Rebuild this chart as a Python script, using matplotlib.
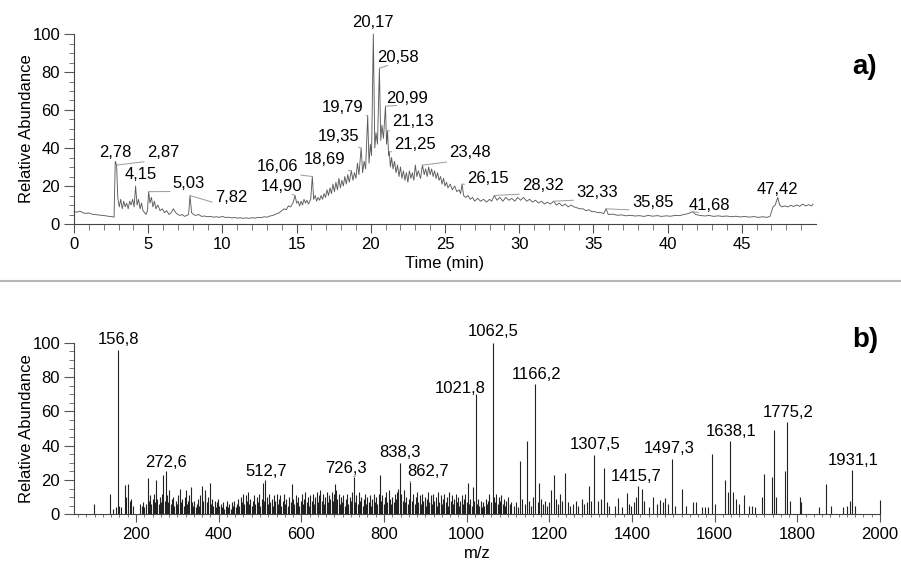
import numpy as np
import matplotlib.pyplot as plt
from matplotlib.ticker import MultipleLocator, FixedLocator
from matplotlib.lines import Line2D

plt.rcParams['font.family'] = ['Liberation Sans', 'DejaVu Sans']
plt.rcParams['font.size'] = 12

# ---- chromatogram (time in min, relative abundance in %) ----
chrom_early = [
    (0.0, 6.5), (0.2, 6.2), (0.4, 6.8), (0.6, 5.9), (0.8, 5.6), (1.0, 5.8), (1.2, 5.2),
    (1.4, 5.0), (1.6, 4.8), (1.8, 4.6), (2.0, 4.5), (2.2, 4.2), (2.4, 4.0), (2.6, 3.8),
    (2.7, 3.6), (2.78, 33), (2.87, 31), (2.95, 14), (3.05, 9), (3.15, 13), (3.25, 8),
    (3.35, 12), (3.45, 9), (3.55, 11), (3.65, 8), (3.75, 12), (3.85, 10), (3.95, 13),
    (4.05, 9), (4.15, 20), (4.25, 10), (4.35, 13), (4.45, 8), (4.55, 11), (4.65, 7),
    (4.75, 6), (4.85, 5), (4.95, 7), (5.03, 17), (5.12, 11), (5.22, 14), (5.32, 9),
    (5.42, 12), (5.52, 8), (5.65, 10), (5.8, 7), (5.95, 8), (6.1, 6), (6.25, 7), (6.4, 5),
    (6.55, 6), (6.7, 8), (6.85, 6), (7.0, 5), (7.15, 4.5), (7.3, 5), (7.45, 4), (7.6, 4.5),
    (7.72, 5), (7.82, 15), (7.92, 6), (8.05, 5), (8.2, 4.5), (8.4, 5), (8.6, 4), (8.8, 4.2),
    (9.0, 3.8), (9.2, 4), (9.4, 3.6), (9.6, 3.8), (9.8, 3.5), (10.0, 4), (10.2, 3.4),
    (10.4, 3.6), (10.6, 3.2), (10.8, 3.4), (11.0, 3.1), (11.2, 3.3), (11.4, 3.0),
    (11.6, 3.2), (11.8, 3.0), (12.0, 3.3), (12.2, 3.1), (12.4, 3.5), (12.6, 3.3),
    (12.8, 3.8), (13.0, 3.6), (13.2, 4.2), (13.4, 4.5), (13.6, 5.2), (13.8, 5.8),
]
chrom_main = [
    (14.0, 7), (14.15, 8), (14.3, 7.5), (14.45, 9.5), (14.6, 9), (14.75, 11), (14.9, 15),
    (15.0, 11), (15.1, 12), (15.2, 9.5), (15.3, 12), (15.4, 10), (15.5, 13), (15.6, 11),
    (15.7, 12.5), (15.8, 10.5), (15.95, 13), (16.06, 25), (16.15, 13), (16.25, 15),
    (16.35, 12), (16.45, 14), (16.55, 12.5), (16.65, 15), (16.75, 13), (16.85, 16),
    (16.95, 14), (17.05, 18), (17.15, 15), (17.25, 19), (17.35, 16), (17.45, 21),
    (17.55, 17), (17.65, 22), (17.75, 18), (17.85, 24), (17.95, 19), (18.05, 23),
    (18.15, 20), (18.25, 25), (18.35, 21), (18.45, 26), (18.55, 22), (18.69, 28),
    (18.8, 23), (18.9, 27), (19.0, 24), (19.1, 32), (19.2, 26), (19.35, 40), (19.45, 27),
    (19.55, 33), (19.65, 29), (19.79, 57), (19.88, 32), (19.97, 42), (20.05, 36),
    (20.17, 100), (20.27, 40), (20.35, 48), (20.45, 42), (20.58, 82), (20.67, 44),
    (20.75, 52), (20.85, 45), (20.99, 62), (21.06, 42), (21.13, 49), (21.2, 36),
    (21.25, 38), (21.32, 30), (21.4, 35), (21.5, 29), (21.6, 33), (21.7, 27), (21.8, 31),
    (21.9, 25), (22.0, 30), (22.1, 24), (22.2, 28), (22.3, 23), (22.4, 27), (22.5, 22),
    (22.6, 28), (22.7, 24), (22.8, 27), (22.9, 23), (23.0, 31), (23.1, 25), (23.2, 28),
    (23.35, 24), (23.48, 31), (23.6, 26), (23.7, 29), (23.8, 25), (23.9, 30), (24.0, 26),
    (24.1, 29), (24.2, 25), (24.3, 28), (24.4, 24), (24.5, 27), (24.6, 23), (24.7, 25),
    (24.8, 21), (24.9, 24), (25.0, 20), (25.1, 22), (25.2, 19), (25.35, 21), (25.5, 18),
    (25.65, 20), (25.8, 17), (25.95, 18), (26.05, 16), (26.15, 21), (26.25, 15),
    (26.4, 14), (26.55, 15), (26.7, 13), (26.85, 14),
]
chrom_late = [
    (27.0, 12), (27.2, 13.5), (27.4, 12), (27.6, 13), (27.8, 11.5), (28.0, 13), (28.15, 12),
    (28.32, 15), (28.5, 12.5), (28.7, 14), (28.9, 12), (29.1, 14), (29.3, 12.5), (29.5, 13.5),
    (29.7, 12), (29.9, 14), (30.1, 12.5), (30.3, 14), (30.5, 12), (30.7, 13), (30.9, 11.5),
    (31.1, 12.5), (31.3, 11), (31.5, 12), (31.7, 10.5), (31.9, 11.5), (32.1, 10.5),
    (32.33, 12), (32.5, 10), (32.7, 11), (32.9, 9.5), (33.1, 10.5), (33.3, 9), (33.5, 10),
    (33.7, 9), (33.9, 8.5), (34.1, 8), (34.3, 8), (34.5, 7), (34.7, 7.5), (34.9, 6.5),
    (35.1, 6.5), (35.3, 6), (35.5, 6), (35.7, 5.5), (35.85, 8), (36.0, 5), (36.3, 5.2),
    (36.6, 4.6), (36.9, 4.8), (37.2, 4.3), (37.5, 4.6), (37.8, 4.2), (38.1, 4.4), (38.4, 4.0),
    (38.7, 4.5), (39.0, 4.1), (39.3, 4.4), (39.6, 4.0), (39.9, 4.3), (40.2, 4.1), (40.5, 4.5),
    (40.8, 4.4), (41.1, 5), (41.4, 5.5), (41.68, 6.5), (41.9, 5), (42.2, 4.5), (42.5, 4.2),
    (42.8, 4.5), (43.1, 4.0), (43.4, 4.3), (43.7, 4.0), (44.0, 4.2), (44.3, 3.8), (44.6, 4.1),
    (44.9, 3.7), (45.2, 4.0), (45.5, 3.6), (45.8, 3.9), (46.1, 3.5), (46.4, 3.8), (46.7, 3.5),
    (46.9, 4), (47.1, 9), (47.25, 10), (47.42, 14), (47.55, 10), (47.7, 9), (47.9, 9.5),
    (48.1, 9), (48.3, 9.8), (48.5, 9.2), (48.7, 10), (48.9, 9.3), (49.1, 10.5), (49.3, 9.5),
    (49.5, 10.2), (49.7, 9.5), (49.8, 10.5),
]

chrom_peak_labels = ["2,78", "2,87", "4,15", "5,03", "7,82", "14,90", "16,06", "18,69",
                     "19,35", "19,79", "20,17", "20,58", "20,99", "21,13", "21,25",
                     "23,48", "26,15", "28,32", "32,33", "35,85", "41,68", "47,42"]

# ---- mass spectrum (m/z, relative abundance in %) ----
ms_low = [
    (98, 6), (137, 12), (145, 3), (152, 4), (156.8, 95.7), (160, 5), (163, 4), (173, 17),
    (177, 10), (181, 17.5), (185, 8), (189, 9), (193, 5), (210, 6), (214, 5),
]
ms_forest = [
    (216, 7), (219, 4), (223, 6), (228, 21), (231, 8), (234, 11), (237, 6), (240, 9),
    (243, 12), (246, 7), (249, 20), (252, 9), (255, 6), (258, 10), (261, 7), (263, 12),
    (266, 23), (269, 8), (272.6, 25), (275, 11), (278, 7), (281, 14), (284, 6), (287, 9),
    (290, 10), (293, 5), (296, 8), (299, 6), (302, 11), (306, 15), (309, 7), (312, 9),
    (315, 5), (318, 10), (320, 14), (323, 6), (326, 8), (329, 11), (332, 16), (335, 7),
    (338, 5), (341, 8), (344, 4), (347, 6), (350, 9), (353, 5), (356, 11), (360, 16.5),
    (363, 8), (366, 12), (368, 14), (371, 7), (374, 10), (378, 18.4), (381, 6), (384, 9),
    (387, 5), (390, 8), (393, 4), (396, 7), (399, 9), (402, 5), (405, 6), (408, 4),
    (411, 7), (414, 3), (417, 5), (420, 8), (423, 4), (426, 6), (429, 3), (432, 7),
    (435, 5), (438, 8), (441, 4), (444, 6), (447, 9), (450, 5), (453, 10), (456, 7),
    (459, 12), (462, 6), (465, 11), (468, 8), (471, 13), (474, 6), (477, 9), (480, 5),
    (483, 8), (486, 11), (489, 6), (492, 10), (495, 7), (498, 12), (501, 5), (504, 9),
    (508, 18), (510, 8), (512.7, 20), (516, 10), (519, 6), (522, 12), (525, 7), (528, 9),
    (531, 5), (534, 11), (537, 8), (540, 12), (543, 6), (546, 9), (549, 11), (552, 5),
    (555, 8), (558, 12), (561, 6), (564, 9), (567, 5), (570, 10), (574, 7), (577, 17.6),
    (580, 9), (583, 6), (586, 11), (589, 7), (592, 10), (595, 5), (598, 8), (601, 12),
    (604, 6), (607, 9), (610, 13), (613, 7), (616, 10), (619, 5), (622, 11), (625, 8),
    (628, 12), (631, 6), (634, 10), (637, 13), (640, 7), (643, 11), (646, 14), (649, 8),
    (652, 12), (655, 6), (658, 10), (661, 13), (664, 7), (667, 11), (670, 9), (673, 13),
    (676, 8), (679, 12), (681, 17.6), (684, 14), (687, 9), (690, 12), (693, 6), (696, 10),
    (699, 7), (702, 11), (705, 5), (708, 9), (711, 12), (714, 6), (717, 10), (720, 8),
    (723, 13), (726.3, 22), (730, 7), (733, 11), (736, 6), (739, 13), (742, 8), (745, 10),
    (748, 5), (751, 9), (754, 12), (757, 6), (760, 10), (763, 7), (766, 11), (769, 5),
    (772, 9), (775, 12), (778, 7), (781, 10), (784, 6), (787, 12), (790, 23), (793, 8),
    (796, 11), (799, 6), (802, 10), (805, 13), (808, 7), (811, 14), (814, 9), (817, 6),
    (820, 10), (823, 7), (826, 12), (829, 9), (832, 13), (835, 15), (838.3, 30), (842, 12),
    (845, 8), (848, 14), (851, 7), (854, 10), (857, 6), (860, 9), (862.7, 19), (868, 8),
    (871, 12), (874, 6), (877, 10), (880, 13), (883, 7), (886, 11), (889, 6), (892, 12),
    (895, 8), (898, 10), (901, 5), (904, 9), (907, 13), (910, 7), (913, 11), (916, 6),
    (919, 12), (922, 8), (925, 10), (928, 5), (931, 13), (934, 7), (937, 11), (940, 6),
    (943, 9), (946, 12), (949, 7), (952, 10), (955, 5), (958, 13), (961, 8), (964, 11),
    (967, 6), (970, 9), (973, 12), (976, 7), (979, 10), (982, 5), (985, 8), (988, 11),
    (991, 6), (994, 9), (997, 12), (1000, 7), (1003, 18), (1006, 6), (1009, 9), (1012, 5),
    (1015, 16), (1018, 8), (1021.8, 70), (1025, 6), (1028, 9), (1031, 5), (1034, 8),
    (1037, 4), (1040, 7), (1043, 5), (1046, 9), (1049, 6), (1052, 8), (1055, 12), (1058, 7),
    (1062.5, 100), (1066, 10), (1069, 7), (1072, 12), (1075, 6), (1078, 10), (1081, 8),
    (1084, 11), (1087, 6), (1090, 9), (1093, 5), (1096, 8), (1100, 10), (1104, 6), (1108, 7),
]
ms_high = [
    (1115, 5), (1120, 7), (1124, 4), (1130, 31), (1135, 9), (1140, 6), (1146, 43), (1150, 8),
    (1155, 5), (1160, 10), (1166.2, 76), (1172, 7), (1176, 18), (1180, 9), (1185, 6),
    (1190, 8), (1195, 5), (1200, 7), (1205, 14), (1211, 23), (1215, 9), (1220, 6), (1226, 12),
    (1230, 8), (1238, 24), (1245, 7), (1250, 5), (1258, 6), (1265, 8), (1270, 5), (1280, 9),
    (1285, 6), (1290, 7), (1297, 16.5), (1302, 8), (1307.5, 34.5), (1318, 8), (1325, 9),
    (1333, 27), (1340, 7), (1345, 5), (1360, 5), (1366, 9.5), (1375, 4), (1387, 12.6),
    (1392, 6), (1398, 5), (1405, 7), (1410, 10), (1415.7, 16.5), (1425, 15), (1430, 8),
    (1440, 4), (1451, 10), (1460, 6), (1468, 8.3), (1475, 7), (1481, 9.5), (1488, 6),
    (1497.3, 32), (1505, 5), (1522, 14.7), (1530, 5), (1548, 7), (1555, 7), (1570, 4),
    (1576, 4), (1583, 4), (1594, 35), (1600, 6), (1625, 20), (1632, 13), (1638.1, 42.7),
    (1645, 13), (1652, 9), (1660, 6), (1671, 11), (1682, 5), (1690, 5), (1697, 4),
    (1715, 10), (1720, 23.5), (1738, 22), (1743, 49), (1748, 10), (1770, 25), (1775.2, 54),
    (1782, 8), (1806, 10), (1810, 7), (1852, 4), (1869, 17.6), (1882, 5), (1910, 4),
    (1920, 5), (1928, 8), (1931.1, 26), (1940, 5), (2000, 8.3),
]

ms_peak_labels = ["156,8", "272,6", "512,7", "726,3", "838,3", "862,7", "1021,8", "1062,5",
                  "1166,2", "1307,5", "1415,7", "1497,3", "1638,1", "1775,2", "1931,1"]

# label layout: (text x, text y, leader)
chrom_label_pos = {
    "2,78": (2.76, 37.4, False), "2,87": (6.0, 37.4, True), "4,15": (4.5, 26.3, False),
    "5,03": (7.75, 21.1, True), "7,82": (10.6, 13.7, True), "14,90": (14.0, 19.5, True),
    "16,06": (13.7, 30.5, True), "18,69": (16.9, 33.7, True), "19,35": (17.8, 45.8, True),
    "19,79": (18.1, 61.1, True), "20,17": (20.15, 105.8, False), "20,58": (21.85, 87.4, True),
    "20,99": (22.45, 66.3, True), "21,13": (22.85, 53.7, True), "21,25": (23.0, 42.1, True),
    "23,48": (26.7, 37.4, True), "26,15": (27.9, 24.2, True), "28,32": (31.6, 20.0, True),
    "32,33": (35.25, 16.8, True), "35,85": (39.0, 11.1, True), "41,68": (42.8, 10.0, True),
    "47,42": (47.37, 17.9, False),
}
ms_label_pos = {
    "156,8": (157, 102, False), "272,6": (272.6, 30, False), "512,7": (514, 24.8, False),
    "726,3": (707, 26.8, True), "838,3": (839, 36, False), "862,7": (907, 25.2, True),
    "1021,8": (985, 73.4, False), "1062,5": (1064, 106.4, False), "1166,2": (1169, 81.6, False),
    "1307,5": (1311, 40.4, False), "1415,7": (1410, 22.3, False), "1497,3": (1490, 38.5, False),
    "1638,1": (1641, 48.1, False), "1775,2": (1778, 59.4, False), "1931,1": (1936, 31.6, False),
}

chrom = np.array(chrom_early + chrom_main + chrom_late)
ms = np.array(ms_low + ms_forest + ms_high)

fig = plt.figure(figsize=(9.01, 5.62), dpi=100)
ax1 = fig.add_axes([74 / 901, 1 - 224 / 562, 742 / 901, 190 / 562])
ax2 = fig.add_axes([74 / 901, 1 - 514.3 / 562, 806 / 901, 171.6 / 562])


def style(ax):
    for s in ('top', 'right'):
        ax.spines[s].set_visible(False)
    for s in ('left', 'bottom'):
        ax.spines[s].set_color('#444')
        ax.spines[s].set_linewidth(0.8)
    ax.tick_params(which='major', length=7, width=0.8, color='#555', labelsize=12, pad=3)
    ax.tick_params(which='minor', length=3.5, width=0.7, color='#777')
    ax.yaxis.set_major_locator(FixedLocator([0, 20, 40, 60, 80, 100]))
    ax.yaxis.set_minor_locator(MultipleLocator(5))
    ax.set_ylim(0, 100)
    ax.set_ylabel("Relative Abundance", fontsize=12, labelpad=-1)


def label_peaks(ax, labels, pos, xs, ys, lead_color='#9a9a9a'):
    for lab in labels:
        xv = float(lab.replace(',', '.'))
        i = np.argmin(np.abs(xs - xv))
        px, py = xs[i], ys[i]
        tx, ty, leader = pos[lab]
        if leader:
            rel = (0.25, 0.0) if tx > px else (0.75, 0.0)
            ax.annotate(lab, xy=(px, py), xytext=(tx, ty), ha='center', va='center',
                        fontsize=12, annotation_clip=False,
                        arrowprops=dict(arrowstyle='-', color=lead_color, lw=0.7,
                                        shrinkA=0, shrinkB=0, relpos=rel))
        else:
            ax.text(tx, ty, lab, ha='center', va='center', fontsize=12, clip_on=False)


# a) chromatogram
style(ax1)
ax1.plot(chrom[:, 0], chrom[:, 1], color='#5c5c5c', lw=0.65, clip_on=False)
ax1.set_xlim(0, 50)
ax1.xaxis.set_major_locator(FixedLocator(list(range(0, 50, 5))))
ax1.xaxis.set_minor_locator(FixedLocator(list(range(0, 50))))
ax1.tick_params(axis='x', which='major', length=6.5)
ax1.tick_params(axis='x', which='minor', length=4)
ax1.set_xlabel("Time (min)", fontsize=12, labelpad=3)
label_peaks(ax1, chrom_peak_labels, chrom_label_pos, chrom[:, 0], chrom[:, 1])
fig.text(865 / 901, 1 - 67 / 562, "a)", fontsize=20, fontweight='bold', ha='center', va='center')

# b) mass spectrum
style(ax2)
ax2.vlines(ms[:, 0], 0, ms[:, 1], color='#222222', lw=0.8, clip_on=False)
ax2.set_xlim(50, 2000)
ax2.xaxis.set_major_locator(FixedLocator(list(range(200, 2001, 200))))
ax2.xaxis.set_minor_locator(FixedLocator(list(range(60, 2001, 20))))
ax2.tick_params(axis='x', which='major', length=6)
ax2.tick_params(axis='x', which='minor', length=2.5)
ax2.set_xlabel("m/z", fontsize=12, labelpad=3)
label_peaks(ax2, ms_peak_labels, ms_label_pos, ms[:, 0], ms[:, 1])
fig.text(865 / 901, 1 - 340 / 562, "b)", fontsize=20, fontweight='bold', ha='center', va='center')

# separator between the two panels
fig.add_artist(Line2D([0, 1], [1 - 281 / 562] * 2, color='#b5b5b5', lw=1.5))

fig.savefig("out.png", dpi=100)
